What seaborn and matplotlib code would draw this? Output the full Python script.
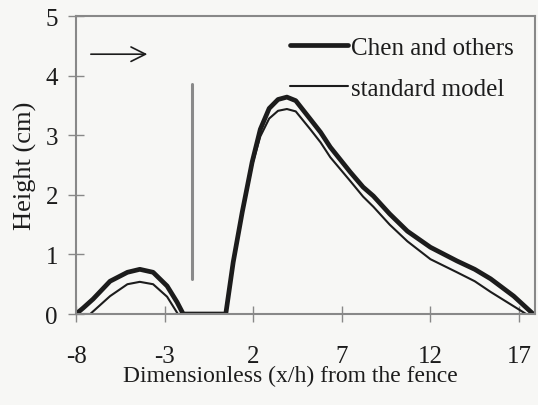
import matplotlib
matplotlib.use("Agg")
import matplotlib.pyplot as plt
import seaborn as sns
import pandas as pd

# Chen and others (thick)
chen_x = [-8.0, -7.6, -7.04, -6.08, -5.1, -4.4, -3.65, -2.86, -2.3, -1.95,
          0.45, 0.87, 1.38, 1.94, 2.4, 2.9, 3.4, 3.9, 4.4, 5.22, 5.8, 6.35,
          7.48, 8.2, 8.78, 9.7, 10.7, 12.0, 13.5, 14.5, 15.4, 16.7, 17.8]
chen_y = [0.0, 0.1, 0.25, 0.55, 0.70, 0.75, 0.70, 0.47, 0.20, 0.0,
          0.0, 0.87, 1.71, 2.55, 3.1, 3.45, 3.6, 3.64, 3.58, 3.27, 3.05, 2.80,
          2.38, 2.13, 1.98, 1.68, 1.39, 1.12, 0.89, 0.75, 0.59, 0.30, 0.0]

# standard model (thin)
std_x = [-8.0, -7.2, -6.08, -5.1, -4.4, -3.65, -2.86, -2.25,
         0.45, 0.87, 1.38, 1.94, 2.4, 2.9, 3.4, 3.9, 4.4, 5.22, 5.8, 6.35,
         7.48, 8.2, 8.78, 9.7, 10.7, 12.0, 13.5, 14.5, 15.4, 16.7, 17.4]
std_y = [0.0, 0.0, 0.30, 0.50, 0.54, 0.50, 0.29, 0.0,
         0.0, 0.85, 1.68, 2.5, 2.98, 3.28, 3.41, 3.44, 3.40, 3.10, 2.88, 2.63,
         2.23, 1.97, 1.80, 1.50, 1.22, 0.92, 0.70, 0.55, 0.37, 0.13, 0.0]

series_names = ["Chen and others", "standard model"]
x_ticks = [-8, -3, 2, 7, 12, 17]
y_ticks = [0, 1, 2, 3, 4, 5]
fence_x = -1.45
fence_y = [0.59, 3.86]

sns.set_style("white")
plt.rcParams['font.family'] = ['Liberation Serif', 'DejaVu Serif']
plt.rcParams['axes.unicode_minus'] = False

bg = '#f7f7f5'
ink = '#1c1c1c'
fig = plt.figure(figsize=(5.38, 4.06), dpi=100, facecolor=bg)
ax = fig.add_axes([0.1413, 0.2241, 0.9944 - 0.1413, 0.958 - 0.2241])
ax.set_facecolor(bg)

df_c = pd.DataFrame({"x": chen_x, "y": chen_y})
df_s = pd.DataFrame({"x": std_x, "y": std_y})
sns.lineplot(data=df_c, x="x", y="y", sort=False, estimator=None, ax=ax,
             color=ink, linewidth=3.4, label=series_names[0])
sns.lineplot(data=df_s, x="x", y="y", sort=False, estimator=None, ax=ax,
             color=ink, linewidth=1.5, label=series_names[1])

# fence
ax.plot([fence_x, fence_x], fence_y, color='#8a8a8a', linewidth=2.2)

# wind arrow
ax.annotate("", xy=(-3.82, 4.36), xytext=(-7.32, 4.36),
            arrowprops=dict(arrowstyle="->", color=ink, lw=1.2,
                            mutation_scale=26))

ax.set_xlim(-8, 17.9)
ax.set_ylim(0, 5)
ax.set_xticks(x_ticks)
ax.set_yticks(y_ticks)
ax.tick_params(bottom=True, left=True, direction='inout', length=12, width=1,
               colors='#888888', labelcolor=ink, labelsize=18)
ax.tick_params(axis='x', pad=16)
ax.tick_params(axis='y', pad=7)
for s in ax.spines.values():
    s.set_color('#888888')
    s.set_linewidth(1.5)

ax.set_xlabel("Dimensionless (x/h) from the fence", fontsize=17, color=ink)
ax.xaxis.set_label_coords(0.466, -0.172)
ax.set_ylabel("Height (cm)", fontsize=19, color=ink, labelpad=6)

leg = ax.legend(loc='upper left', bbox_to_anchor=(0.45, 0.957), frameon=False,
                fontsize=18, handlelength=2.3, handletextpad=0.15,
                borderaxespad=0.0, borderpad=0.3, labelspacing=0.74)
for t in leg.get_texts():
    t.set_color(ink)

fig.savefig("out.png", dpi=100, facecolor=bg)
